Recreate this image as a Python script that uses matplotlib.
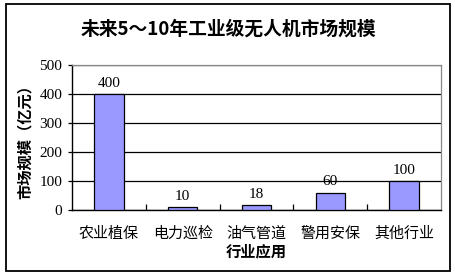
import matplotlib
matplotlib.use("Agg")
import matplotlib.pyplot as plt
from matplotlib.patches import Rectangle

plt.rcParams['font.family'] = ['Noto Sans CJK SC', 'DejaVu Sans']

title = "未来5～10年工业级无人机市场规模"
categories = ["农业植保", "电力巡检", "油气管道", "警用安保", "其他行业"]
values = [400, 10, 18, 60, 100]
yticks = [0, 100, 200, 300, 400, 500]
xlabel = "行业应用"
ylabel = "市场规模（亿元）"

fig = plt.figure(figsize=(4.56, 2.78), dpi=100)
fig.patch.set_facecolor("white")

# outer chart frame
fig.patches.append(Rectangle((0.013, 0.025), 0.974, 0.961, transform=fig.transFigure,
                             fill=False, edgecolor="black", linewidth=1.3, zorder=0))

ax = fig.add_axes([0.158, 0.2446, 0.809, 0.5214])
x = list(range(len(categories)))
bars = ax.bar(x, values, width=0.4, color="#9999FF", edgecolor="black", linewidth=0.9, zorder=3)

ax.set_xlim(-0.5, len(categories) - 0.5)
ax.set_ylim(0, 500)
ax.set_yticks(yticks)
ax.set_yticklabels([str(t) for t in yticks], fontfamily="Liberation Serif", fontsize=11)
ax.yaxis.grid(True, color="black", linewidth=0.9, zorder=1)
ax.set_axisbelow(True)

ax.set_xticks(x)
ax.set_xticklabels(categories, fontsize=10.8)
ax.tick_params(axis="x", length=0, pad=12)
ax.set_xticks([i + 0.5 for i in x[:-1]], minor=True)
ax.tick_params(axis="x", which="minor", direction="in", length=4, width=0.9)
ax.tick_params(axis="y", length=3, width=0.9, pad=4)

for side in ("top", "right"):
    ax.spines[side].set_color("#888888")
    ax.spines[side].set_linewidth(0.9)
for side in ("left", "bottom"):
    ax.spines[side].set_color("black")
    ax.spines[side].set_linewidth(1.0)

for xi, v in zip(x, values):
    ax.annotate(str(v), (xi, v), xytext=(0, 3), textcoords="offset points",
                ha="center", va="bottom", fontsize=11, fontfamily="Liberation Serif")

ax.set_xlabel(xlabel, fontsize=11, fontweight="bold", labelpad=2)
ax.set_ylabel(ylabel, fontsize=11, fontweight="bold", labelpad=5)

fig.text(0.5, 0.897, title, ha="center", va="center", fontsize=13.5, fontweight="bold")

fig.savefig("out.png", dpi=100, facecolor="white")
